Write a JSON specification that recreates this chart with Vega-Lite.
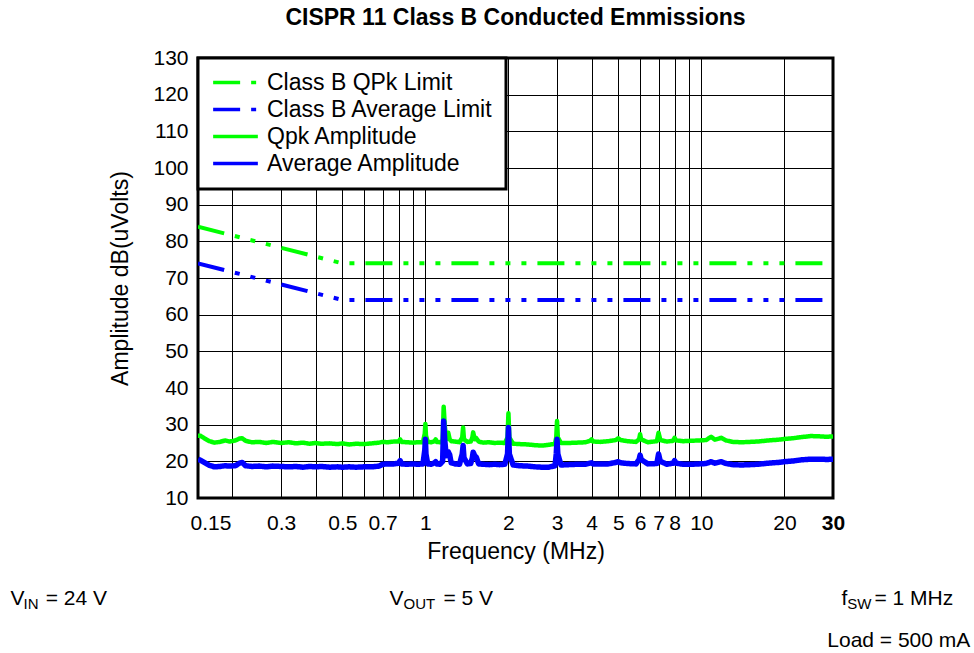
{
  "$schema": "https://vega.github.io/schema/vega-lite/v6.json",
  "width": 635,
  "height": 440,
  "autosize": {"type": "none"},
  "padding": {"left": 198, "top": 58, "right": 141, "bottom": 155},
  "background": "white",
  "title": {
    "text": "CISPR 11 Class B Conducted Emmissions",
    "font": "Liberation Sans",
    "fontSize": 23,
    "fontWeight": "bold",
    "color": "#000",
    "anchor": "middle",
    "offset": 17
  },
  "config": {
    "view": {"stroke": "#000", "strokeWidth": 3},
    "font": "Liberation Sans",
    "axis": {
      "labelFont": "Liberation Sans",
      "labelFontSize": 21,
      "labelColor": "#000",
      "titleFont": "Liberation Sans",
      "titleFontSize": 23,
      "titleFontWeight": "normal",
      "titleColor": "#000",
      "ticks": false,
      "domain": false,
      "grid": true,
      "gridColor": "#000",
      "gridWidth": 1,
      "gridOpacity": 1,
      "labelOverlap": false
    },
    "legend": {
      "labelFont": "Liberation Sans",
      "labelFontSize": 23,
      "labelColor": "#000"
    }
  },
  "datasets": {
    "limits": [
      {"f": 0.15, "series": "Class B QPk Limit", "v": 84},
      {"f": 0.5, "series": "Class B QPk Limit", "v": 74},
      {"f": 30, "series": "Class B QPk Limit", "v": 74},
      {"f": 0.15, "series": "Class B Average Limit", "v": 74},
      {"f": 0.5, "series": "Class B Average Limit", "v": 64},
      {"f": 30, "series": "Class B Average Limit", "v": 64}
    ],
    "meas": [
      {"f": 0.150, "qpk": 27.0, "avg": 20.6},
      {"f": 0.153, "qpk": 27.0, "avg": 20.3},
      {"f": 0.158, "qpk": 26.3, "avg": 19.7},
      {"f": 0.165, "qpk": 25.5, "avg": 18.9},
      {"f": 0.172, "qpk": 25.1, "avg": 18.5},
      {"f": 0.180, "qpk": 25.3, "avg": 18.6},
      {"f": 0.188, "qpk": 25.7, "avg": 18.8},
      {"f": 0.195, "qpk": 25.4, "avg": 18.7},
      {"f": 0.205, "qpk": 25.7, "avg": 18.8},
      {"f": 0.212, "qpk": 26.2, "avg": 19.5},
      {"f": 0.217, "qpk": 26.3, "avg": 19.7},
      {"f": 0.223, "qpk": 25.6, "avg": 18.8},
      {"f": 0.235, "qpk": 25.2, "avg": 18.6},
      {"f": 0.25, "qpk": 25.3, "avg": 18.7},
      {"f": 0.265, "qpk": 25.0, "avg": 18.5},
      {"f": 0.28, "qpk": 25.3, "avg": 18.7},
      {"f": 0.30, "qpk": 25.0, "avg": 18.6},
      {"f": 0.32, "qpk": 25.2, "avg": 18.5},
      {"f": 0.34, "qpk": 24.9, "avg": 18.6},
      {"f": 0.36, "qpk": 25.1, "avg": 18.4},
      {"f": 0.38, "qpk": 24.8, "avg": 18.6},
      {"f": 0.40, "qpk": 25.0, "avg": 18.5},
      {"f": 0.42, "qpk": 24.8, "avg": 18.6},
      {"f": 0.45, "qpk": 24.9, "avg": 18.4},
      {"f": 0.48, "qpk": 24.7, "avg": 18.5},
      {"f": 0.50, "qpk": 24.9, "avg": 18.4},
      {"f": 0.53, "qpk": 24.6, "avg": 18.5},
      {"f": 0.56, "qpk": 24.8, "avg": 18.4},
      {"f": 0.60, "qpk": 24.7, "avg": 18.5},
      {"f": 0.64, "qpk": 24.9, "avg": 18.5},
      {"f": 0.68, "qpk": 25.1, "avg": 18.7},
      {"f": 0.70, "qpk": 25.3, "avg": 19.2},
      {"f": 0.73, "qpk": 25.2, "avg": 19.3},
      {"f": 0.77, "qpk": 25.4, "avg": 19.3},
      {"f": 0.80, "qpk": 25.4, "avg": 19.5},
      {"f": 0.81, "qpk": 26.0, "avg": 20.2},
      {"f": 0.82, "qpk": 25.3, "avg": 19.3},
      {"f": 0.86, "qpk": 25.2, "avg": 19.2},
      {"f": 0.90, "qpk": 25.1, "avg": 19.3},
      {"f": 0.94, "qpk": 25.2, "avg": 19.2},
      {"f": 0.98, "qpk": 25.2, "avg": 19.3},
      {"f": 0.995, "qpk": 27.5, "avg": 23.0},
      {"f": 1.00, "qpk": 30.2, "avg": 26.0},
      {"f": 1.005, "qpk": 27.0, "avg": 22.0},
      {"f": 1.02, "qpk": 25.3, "avg": 19.3},
      {"f": 1.05, "qpk": 25.2, "avg": 19.2},
      {"f": 1.08, "qpk": 25.5, "avg": 19.6},
      {"f": 1.09, "qpk": 26.0, "avg": 19.9},
      {"f": 1.10, "qpk": 25.3, "avg": 19.3},
      {"f": 1.13, "qpk": 25.2, "avg": 19.2},
      {"f": 1.155, "qpk": 25.6, "avg": 20.0},
      {"f": 1.165, "qpk": 34.9, "avg": 31.0},
      {"f": 1.175, "qpk": 30.0, "avg": 26.0},
      {"f": 1.19, "qpk": 26.0, "avg": 21.5},
      {"f": 1.21, "qpk": 27.8, "avg": 22.6},
      {"f": 1.225, "qpk": 26.0, "avg": 21.8},
      {"f": 1.24, "qpk": 25.5, "avg": 19.6},
      {"f": 1.28, "qpk": 25.4, "avg": 19.3},
      {"f": 1.33, "qpk": 25.2, "avg": 19.2},
      {"f": 1.36, "qpk": 26.5, "avg": 22.0},
      {"f": 1.37, "qpk": 29.2, "avg": 24.3},
      {"f": 1.38, "qpk": 26.0, "avg": 21.0},
      {"f": 1.42, "qpk": 25.3, "avg": 19.3},
      {"f": 1.46, "qpk": 25.4, "avg": 19.4},
      {"f": 1.48, "qpk": 26.5, "avg": 21.0},
      {"f": 1.49, "qpk": 27.9, "avg": 22.5},
      {"f": 1.51, "qpk": 26.0, "avg": 21.5},
      {"f": 1.53, "qpk": 26.3, "avg": 21.1},
      {"f": 1.56, "qpk": 25.4, "avg": 19.3},
      {"f": 1.62, "qpk": 25.1, "avg": 19.2},
      {"f": 1.70, "qpk": 25.2, "avg": 19.1},
      {"f": 1.78, "qpk": 25.0, "avg": 19.2},
      {"f": 1.86, "qpk": 25.1, "avg": 19.1},
      {"f": 1.94, "qpk": 25.0, "avg": 19.2},
      {"f": 1.985, "qpk": 26.5, "avg": 22.0},
      {"f": 2.00, "qpk": 33.1, "avg": 29.2},
      {"f": 2.015, "qpk": 26.5, "avg": 22.0},
      {"f": 2.08, "qpk": 24.8, "avg": 19.0},
      {"f": 2.2, "qpk": 24.7, "avg": 18.8},
      {"f": 2.35, "qpk": 24.6, "avg": 18.7},
      {"f": 2.5, "qpk": 24.4, "avg": 18.5},
      {"f": 2.65, "qpk": 24.3, "avg": 18.4},
      {"f": 2.8, "qpk": 24.5, "avg": 18.4},
      {"f": 2.95, "qpk": 24.8, "avg": 18.8},
      {"f": 2.98, "qpk": 26.5, "avg": 22.0},
      {"f": 3.00, "qpk": 31.0, "avg": 26.0},
      {"f": 3.02, "qpk": 26.5, "avg": 22.0},
      {"f": 3.1, "qpk": 25.0, "avg": 19.0},
      {"f": 3.3, "qpk": 25.0, "avg": 19.1},
      {"f": 3.55, "qpk": 25.1, "avg": 19.2},
      {"f": 3.8, "qpk": 25.2, "avg": 19.2},
      {"f": 3.95, "qpk": 25.6, "avg": 19.5},
      {"f": 4.00, "qpk": 26.0, "avg": 19.6},
      {"f": 4.05, "qpk": 25.4, "avg": 19.3},
      {"f": 4.3, "qpk": 25.3, "avg": 19.3},
      {"f": 4.6, "qpk": 25.5, "avg": 19.3},
      {"f": 4.9, "qpk": 25.8, "avg": 19.7},
      {"f": 5.0, "qpk": 26.3, "avg": 19.9},
      {"f": 5.1, "qpk": 25.8, "avg": 19.6},
      {"f": 5.4, "qpk": 25.5, "avg": 19.4},
      {"f": 5.8, "qpk": 25.3, "avg": 19.3},
      {"f": 5.95, "qpk": 26.0, "avg": 20.5},
      {"f": 6.0, "qpk": 27.4, "avg": 21.7},
      {"f": 6.05, "qpk": 26.0, "avg": 20.5},
      {"f": 6.4, "qpk": 25.2, "avg": 19.3},
      {"f": 6.9, "qpk": 25.5, "avg": 19.4},
      {"f": 7.0, "qpk": 27.8, "avg": 22.0},
      {"f": 7.1, "qpk": 25.8, "avg": 20.0},
      {"f": 7.5, "qpk": 25.4, "avg": 19.2},
      {"f": 7.9, "qpk": 25.6, "avg": 19.5},
      {"f": 8.0, "qpk": 26.4, "avg": 20.2},
      {"f": 8.1, "qpk": 25.7, "avg": 19.5},
      {"f": 8.6, "qpk": 25.5, "avg": 19.2},
      {"f": 9.2, "qpk": 25.6, "avg": 19.2},
      {"f": 9.8, "qpk": 25.7, "avg": 19.3},
      {"f": 10.4, "qpk": 25.8, "avg": 19.4},
      {"f": 10.85, "qpk": 26.7, "avg": 19.9},
      {"f": 11.2, "qpk": 25.9, "avg": 19.5},
      {"f": 11.8, "qpk": 26.4, "avg": 19.9},
      {"f": 12.3, "qpk": 25.7, "avg": 19.4},
      {"f": 13.0, "qpk": 25.3, "avg": 19.1},
      {"f": 14.0, "qpk": 25.2, "avg": 19.0},
      {"f": 15.0, "qpk": 25.3, "avg": 19.1},
      {"f": 16.0, "qpk": 25.4, "avg": 19.2},
      {"f": 17.5, "qpk": 25.7, "avg": 19.5},
      {"f": 19.0, "qpk": 25.9, "avg": 19.7},
      {"f": 20.0, "qpk": 26.1, "avg": 19.9},
      {"f": 21.5, "qpk": 26.3, "avg": 20.1},
      {"f": 23.0, "qpk": 26.6, "avg": 20.4},
      {"f": 25.0, "qpk": 26.9, "avg": 20.6},
      {"f": 27.0, "qpk": 26.8, "avg": 20.6},
      {"f": 28.5, "qpk": 26.7, "avg": 20.5},
      {"f": 30.0, "qpk": 26.8, "avg": 20.6}
    ]
  },
  "resolve": {"scale": {"x": "shared", "y": "shared", "color": "shared", "strokeDash": "shared"}},
  "layer": [
    {
      "data": {"name": "limits"},
      "mark": {"type": "line", "strokeWidth": 4, "clip": true},
      "encoding": {
        "x": {
          "field": "f", "type": "quantitative",
          "scale": {"type": "log", "domain": [0.15, 30], "nice": false},
          "axis": {
            "title": "Frequency (MHz)",
            "values": [0.15, 0.2, 0.3, 0.4, 0.5, 0.6, 0.7, 0.8, 0.9, 1, 2, 3, 4, 5, 6, 7, 8, 9, 10, 20, 30],
            "tickCount": 50,
            "labelExpr": "indexof([0.2, 0.4, 0.6, 0.8, 0.9, 9], datum.value) >= 0 ? '' : '' + datum.value",
            "labelAlign": {"condition": {"test": "datum.value == 0.15", "value": "left"}, "value": "center"},
            "labelOffset": {"condition": {"test": "datum.value == 0.15", "value": -8}, "value": 0},
            "labelFontWeight": {"condition": {"test": "datum.value == 30", "value": "bold"}, "value": "normal"},
            "labelOverlap": false,
            "labelPadding": 14,
            "titlePadding": 7
          }
        },
        "y": {
          "field": "v", "type": "quantitative",
          "scale": {"domain": [10, 130], "nice": false, "zero": false},
          "axis": {
            "title": "Amplitude dB(uVolts)",
            "values": [10, 20, 30, 40, 50, 60, 70, 80, 90, 100, 110, 120, 130],
            "tickCount": 50,
            "labelOverlap": false,
            "labelPadding": 10,
            "titlePadding": 20
          }
        },
        "color": {
          "field": "series", "type": "nominal",
          "scale": {
            "domain": ["Class B QPk Limit", "Class B Average Limit", "Qpk Amplitude", "Average Amplitude"],
            "range": ["#00ff00", "#0000ff", "#00ff00", "#0000ff"]
          },
          "legend": {
            "title": null,
            "orient": "none",
            "legendX": 0,
            "legendY": 0,
            "symbolType": "stroke",
            "symbolSize": 2000,
            "symbolStrokeWidth": 3.5,
            "clipHeight": 23,
            "rowPadding": 3,
            "padding": 13,
            "labelOffset": 7,
            "fillColor": "white",
            "strokeColor": "black",
            "labelLimit": 400,
            "encode": {"legend": {"update": {"strokeWidth": {"value": 3}}}}
          }
        },
        "strokeDash": {
          "field": "series", "type": "nominal",
          "scale": {
            "domain": ["Class B QPk Limit", "Class B Average Limit", "Qpk Amplitude", "Average Amplitude"],
            "range": [[27, 11, 5, 11, 5, 11, 5, 11], [27, 11, 5, 11, 5, 11, 5, 11], [1, 0], [1, 0]]
          },
          "legend": {
            "title": null,
            "orient": "none",
            "legendX": 0,
            "legendY": 0,
            "symbolType": "stroke",
            "symbolSize": 2000,
            "symbolStrokeWidth": 3.5,
            "clipHeight": 23,
            "rowPadding": 3,
            "padding": 13,
            "labelOffset": 7,
            "fillColor": "white",
            "strokeColor": "black",
            "labelLimit": 400,
            "encode": {"legend": {"update": {"strokeWidth": {"value": 3}}}}
          }
        }
      }
    },
    {
      "data": {"name": "meas"},
      "mark": {"type": "line", "strokeWidth": 4.5, "strokeJoin": "round", "clip": true},
      "encoding": {
        "x": {"field": "f", "type": "quantitative"},
        "y": {"field": "qpk", "type": "quantitative"},
        "color": {"datum": "Qpk Amplitude"},
        "strokeDash": {"datum": "Qpk Amplitude"}
      }
    },
    {
      "data": {"name": "meas"},
      "mark": {"type": "line", "strokeWidth": 5.5, "strokeJoin": "round", "clip": true},
      "encoding": {
        "x": {"field": "f", "type": "quantitative"},
        "y": {"field": "avg", "type": "quantitative"},
        "color": {"datum": "Average Amplitude"},
        "strokeDash": {"datum": "Average Amplitude"}
      }
    },
    {
      "data": {"values": [{}]},
      "mark": {"type": "text", "text": "V", "align": "left", "baseline": "alphabetic", "fontSize": 21, "font": "Liberation Sans", "color": "#000"},
      "encoding": {"x": {"datum": 0.0314}, "y": {"datum": -19.2}}
    },
    {
      "data": {"values": [{}]},
      "mark": {"type": "text", "text": "IN", "align": "left", "baseline": "alphabetic", "fontSize": 15, "font": "Liberation Sans", "color": "#000"},
      "encoding": {"x": {"datum": 0.0350}, "y": {"datum": -20.3}}
    },
    {
      "data": {"values": [{}]},
      "mark": {"type": "text", "text": "= 24 V", "align": "left", "baseline": "alphabetic", "fontSize": 21, "font": "Liberation Sans", "color": "#000"},
      "encoding": {"x": {"datum": 0.0421}, "y": {"datum": -19.2}}
    },
    {
      "data": {"values": [{}]},
      "mark": {"type": "text", "text": "V", "align": "left", "baseline": "alphabetic", "fontSize": 21, "font": "Liberation Sans", "color": "#000"},
      "encoding": {"x": {"datum": 0.741}, "y": {"datum": -19.2}}
    },
    {
      "data": {"values": [{}]},
      "mark": {"type": "text", "text": "OUT", "align": "left", "baseline": "alphabetic", "fontSize": 15, "font": "Liberation Sans", "color": "#000"},
      "encoding": {"x": {"datum": 0.833}, "y": {"datum": -20.3}}
    },
    {
      "data": {"values": [{}]},
      "mark": {"type": "text", "text": "= 5 V", "align": "left", "baseline": "alphabetic", "fontSize": 21, "font": "Liberation Sans", "color": "#000"},
      "encoding": {"x": {"datum": 1.163}, "y": {"datum": -19.2}}
    },
    {
      "data": {"values": [{}]},
      "mark": {"type": "text", "text": "f", "align": "left", "baseline": "alphabetic", "fontSize": 21, "font": "Liberation Sans", "color": "#000"},
      "encoding": {"x": {"datum": 32.2}, "y": {"datum": -19.2}}
    },
    {
      "data": {"values": [{}]},
      "mark": {"type": "text", "text": "SW", "align": "left", "baseline": "alphabetic", "fontSize": 15, "font": "Liberation Sans", "color": "#000"},
      "encoding": {"x": {"datum": 33.8}, "y": {"datum": -20.3}}
    },
    {
      "data": {"values": [{}]},
      "mark": {"type": "text", "text": "= 1 MHz", "align": "left", "baseline": "alphabetic", "fontSize": 21, "font": "Liberation Sans", "color": "#000"},
      "encoding": {"x": {"datum": 42.4}, "y": {"datum": -19.2}}
    },
    {
      "data": {"values": [{}]},
      "mark": {"type": "text", "text": "Load = 500 mA", "align": "left", "baseline": "alphabetic", "fontSize": 21, "font": "Liberation Sans", "color": "#000"},
      "encoding": {"x": {"datum": 28.6}, "y": {"datum": -30.6}}
    }
  ]
}
